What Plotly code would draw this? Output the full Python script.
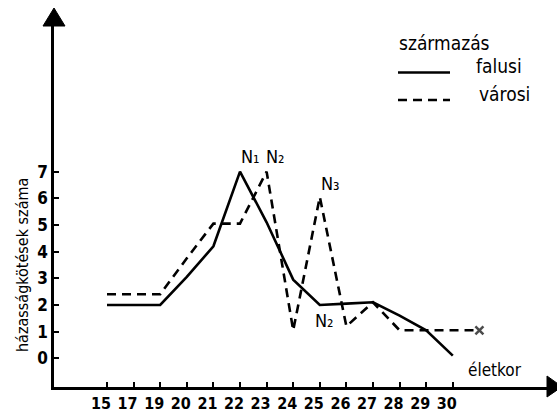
import plotly.graph_objects as go

# ---- data ----
age_labels = ["15", "17", "19", "20", "21", "22", "23", "24", "25", "26", "27", "28", "29", "30"]
falusi = [2.0, 2.0, 2.0, 3.05, 4.2, 7.0, 5.1, 2.95, 2.0, 2.05, 2.1, 1.6, 1.05, 0.1]
varosi = [2.4, 2.4, 2.4, 3.75, 5.05, 5.05, 7.0, 1.05, 6.05, 1.2, 2.1, 1.05, 1.05, 1.05, 1.05]
y_ticks = [0, 1, 2, 3, 4, 5, 6, 7]

x_pos = list(range(len(age_labels)))
x_pos_varosi = list(range(len(varosi)))

FONT = "DejaVu Sans Condensed"

fig = go.Figure()
fig.add_trace(go.Scatter(
    x=x_pos, y=falusi, mode="lines", name="falusi",
    line=dict(color="black", width=2.6), showlegend=False))
fig.add_trace(go.Scatter(
    x=x_pos_varosi, y=varosi, mode="lines+markers", name="városi",
    line=dict(color="black", width=2.6, dash="9px,6px"),
    marker=dict(symbol="x-thin", size=[0] * (len(varosi) - 1) + [8],
                line=dict(color="black", width=2.5), color="black"),
    showlegend=False))

W, H = 557, 416
L, R, T, B = 54, 7, 25, 29
pw, ph = W - L - R, H - T - B

def px(x):
    return (x - L) / pw

def py(y):
    return 1 - (y - T) / ph

shapes = [
    # axis arrowheads
    dict(type="path", xref="paper", yref="paper",
         path=f"M {px(43)} {py(26)} L {px(54)} {py(8)} L {px(65)} {py(26)} Z",
         fillcolor="black", line=dict(color="black", width=1)),
    dict(type="path", xref="paper", yref="paper",
         path=f"M {px(547)} {py(376)} L {px(562)} {py(386.7)} L {px(547)} {py(397)} Z",
         fillcolor="black", line=dict(color="black", width=1)),
    # legend samples
    dict(type="line", xref="paper", yref="paper", x0=px(398), x1=px(450),
         y0=py(72.5), y1=py(72.5), line=dict(color="black", width=2.5)),
    dict(type="line", xref="paper", yref="paper", x0=px(398), x1=px(450),
         y0=py(100), y1=py(100), line=dict(color="black", width=2.5, dash="9px,6px")),
]

def txt(s, size=18, bold=False):
    return dict(text=s, showarrow=False,
                font=dict(family=FONT, size=size, color="black",
                          weight="bold" if bold else "normal"))

annotations = [
    dict(**txt("származás", 19), xref="paper", yref="paper", x=px(397), y=py(43),
         xanchor="left", yanchor="middle"),
    dict(**txt("falusi", 19), xref="paper", yref="paper", x=px(474), y=py(66),
         xanchor="left", yanchor="middle"),
    dict(**txt("városi", 19), xref="paper", yref="paper", x=px(477), y=py(94),
         xanchor="left", yanchor="middle"),
    dict(**txt("házasságkötések száma", 16), xref="paper", yref="paper", x=px(22), y=py(265),
         xanchor="center", yanchor="middle", textangle=-90),
    dict(**txt("életkor", 17), x=14.6, y=-0.42, xanchor="center", yanchor="middle"),
    dict(**txt("N₁", 18), x=5.4, y=7.55, xanchor="center", yanchor="middle"),
    dict(**txt("N₂", 18), x=6.35, y=7.55, xanchor="center", yanchor="middle"),
    dict(**txt("N₃", 18), x=8.42, y=6.55, xanchor="center", yanchor="middle"),
    dict(**txt("N₂", 18), x=8.16, y=1.42, xanchor="center", yanchor="middle"),
]

x_lo = (L - 107) / 26.6
x_hi = (W - R - 107) / 26.6
y_lo = (358.3 - (H - B)) / 26.67
y_hi = (358.3 - T) / 26.67

fig.update_layout(
    width=W, height=H,
    margin=dict(l=L, r=R, t=T, b=B, pad=0),
    paper_bgcolor="white", plot_bgcolor="white",
    shapes=shapes, annotations=annotations,
    xaxis=dict(range=[x_lo, x_hi], tickmode="array", tickvals=x_pos, ticktext=age_labels,
               showgrid=False, zeroline=False, showline=True, linecolor="black", linewidth=2.5,
               ticks="inside", ticklen=5, tickwidth=2, tickcolor="black",
               ticklabelshift=-6, ticklabelstandoff=0, automargin=False,
               tickfont=dict(family=FONT, size=16, color="black", weight="bold")),
    yaxis=dict(range=[y_lo, y_hi], tickmode="array", tickvals=y_ticks,
               showgrid=False, zeroline=False, showline=True, linecolor="black", linewidth=2.5,
               ticks="inside", ticklen=5, tickwidth=2, tickcolor="black",
               ticklabelstandoff=0, automargin=False,
               tickfont=dict(family=FONT, size=17, color="black", weight="bold")),
)

fig.write_html("out.html", config={"displayModeBar": False},
               post_script="document.body.style.margin='0px';document.body.style.overflow='hidden';")
